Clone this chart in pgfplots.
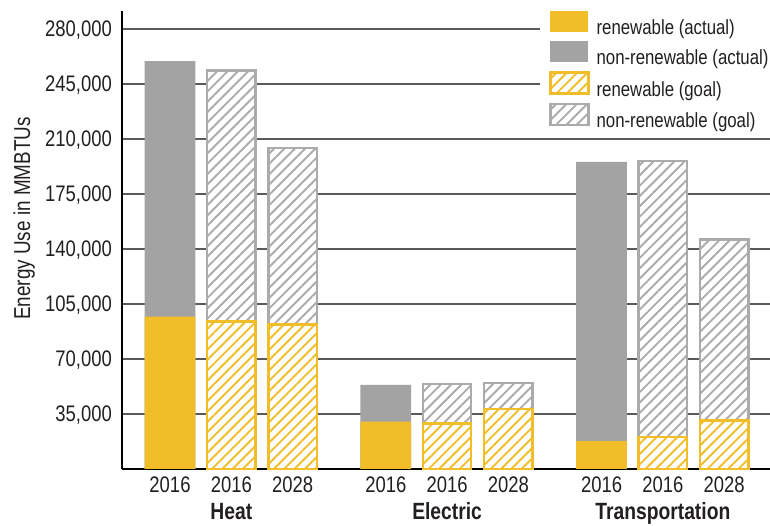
\documentclass[border=0pt]{standalone}
\usepackage{fontspec}
\setmainfont[FakeStretch=0.82]{Liberation Sans}
\usepackage{pgfplots}
\pgfplotsset{compat=1.18}
\usetikzlibrary{patterns.meta}
\definecolor{ren}{HTML}{F1BE29}
\definecolor{nonren}{HTML}{A3A3A3}
\definecolor{goalgray}{HTML}{ABABAB}
\definecolor{gridc}{HTML}{5A5A5A}
\definecolor{txt}{HTML}{231F20}
\pgfplotsset{swatch/.style={/pgfplots/legend image code/.code={\path[##1] (0pt,-4pt) rectangle (38pt,17pt);}}}
\begin{document}
\begin{tikzpicture}
\begin{axis}[
  at={(122pt,57pt)}, anchor=south west,
  scale only axis, width=648pt, height=458pt,
  xmin=-0.783, xmax=9.788, ymin=0, ymax=291500,
  clip=false,
  axis x line*=bottom, axis y line*=left,
  axis line style={-, line width=2.4pt, black},
  ytick={35000,70000,105000,140000,175000,210000,245000,280000},
  ymajorgrids, grid style={line width=1.6pt, gridc},
  xtick={0,1,2,3.52,4.52,5.52,7.04,8.04,9.04},
  xticklabels={2016,2016,2028,2016,2016,2028,2016,2016,2028},
  major tick length=0pt,
  scaled y ticks=false,
  /pgf/number format/.cd, fixed, precision=0, 1000 sep={,}, assume math mode=true,
  /pgfplots/.cd,
  tick label style={font=\fontsize{22.5}{25}\selectfont, text=txt},
  yticklabel style={anchor=east, inner sep=0pt, xshift=-10pt, text depth=0pt},
  xticklabel style={anchor=north, inner sep=0pt, yshift=-8pt},
  ylabel={Energy Use in MMBTUs},
  ylabel style={font=\fontsize{23}{26}\selectfont, text=txt, at={(axis description cs:-0.151,0.547)}, anchor=center, rotate=0},
  ybar, bar width=0.83,
  legend style={at={(0.645,1.014)}, anchor=north west, draw=none, fill=white,
    inner xsep=9pt, inner ysep=6pt, row sep=5pt, column sep=7pt,
    nodes={inner sep=0pt}, font=\fontsize{20.5}{23}\selectfont, text=txt},
  legend cell align=left,
]
% actual: totals then renewable
\addplot[fill=nonren, draw=none, bar shift=0, forget plot] coordinates {(0,259600) (3.52,53500) (7.04,195400)};
\addplot[fill=ren, draw=none, bar shift=0, forget plot] coordinates {(0,96900) (3.52,30100) (7.04,17800)};
% goal: totals then renewable
\addplot[draw=goalgray, line width=2.4pt, bar width=0.79, bar shift=0, preaction={fill=white},
  pattern={Lines[angle=45,distance=7.3pt,line width=1.9pt]}, pattern color=goalgray, forget plot]
  coordinates {(1,253700) (2,204200) (4.52,54200) (5.52,54700) (8.04,196200) (9.04,146000)};
\addplot[draw=ren, line width=2.4pt, bar width=0.79, bar shift=0, preaction={fill=white},
  pattern={Lines[angle=45,distance=7.3pt,line width=1.9pt]}, pattern color=ren, forget plot]
  coordinates {(1,94000) (2,92000) (4.52,29000) (5.52,38200) (8.04,20200) (9.04,30800)};
\addlegendimage{swatch, fill=ren, draw=none}
\addlegendentry{renewable (actual)}
\addlegendimage{swatch, fill=nonren, draw=none}
\addlegendentry{non-renewable (actual)}
\addlegendimage{swatch, draw=ren, line width=2.4pt, preaction={fill=white}, pattern={Lines[angle=45,distance=7.3pt,line width=1.9pt]}, pattern color=ren}
\addlegendentry{renewable (goal)}
\addlegendimage{swatch, draw=goalgray, line width=2.4pt, preaction={fill=white}, pattern={Lines[angle=45,distance=7.3pt,line width=1.9pt]}, pattern color=goalgray}
\addlegendentry{non-renewable (goal)}
\node[anchor=base, font=\fontsize{23.5}{26}\selectfont\bfseries, text=txt, yshift=-51pt] at (axis cs:1,0) {Heat};
\node[anchor=base, font=\fontsize{23.5}{26}\selectfont\bfseries, text=txt, yshift=-51pt] at (axis cs:4.52,0) {Electric};
\node[anchor=base, font=\fontsize{23.5}{26}\selectfont\bfseries, text=txt, yshift=-51pt] at (axis cs:8.04,0) {Transportation};
\end{axis}
\pgfresetboundingbox
\path[use as bounding box] (0,0) rectangle (770pt,526pt);
\end{tikzpicture}
\end{document}
